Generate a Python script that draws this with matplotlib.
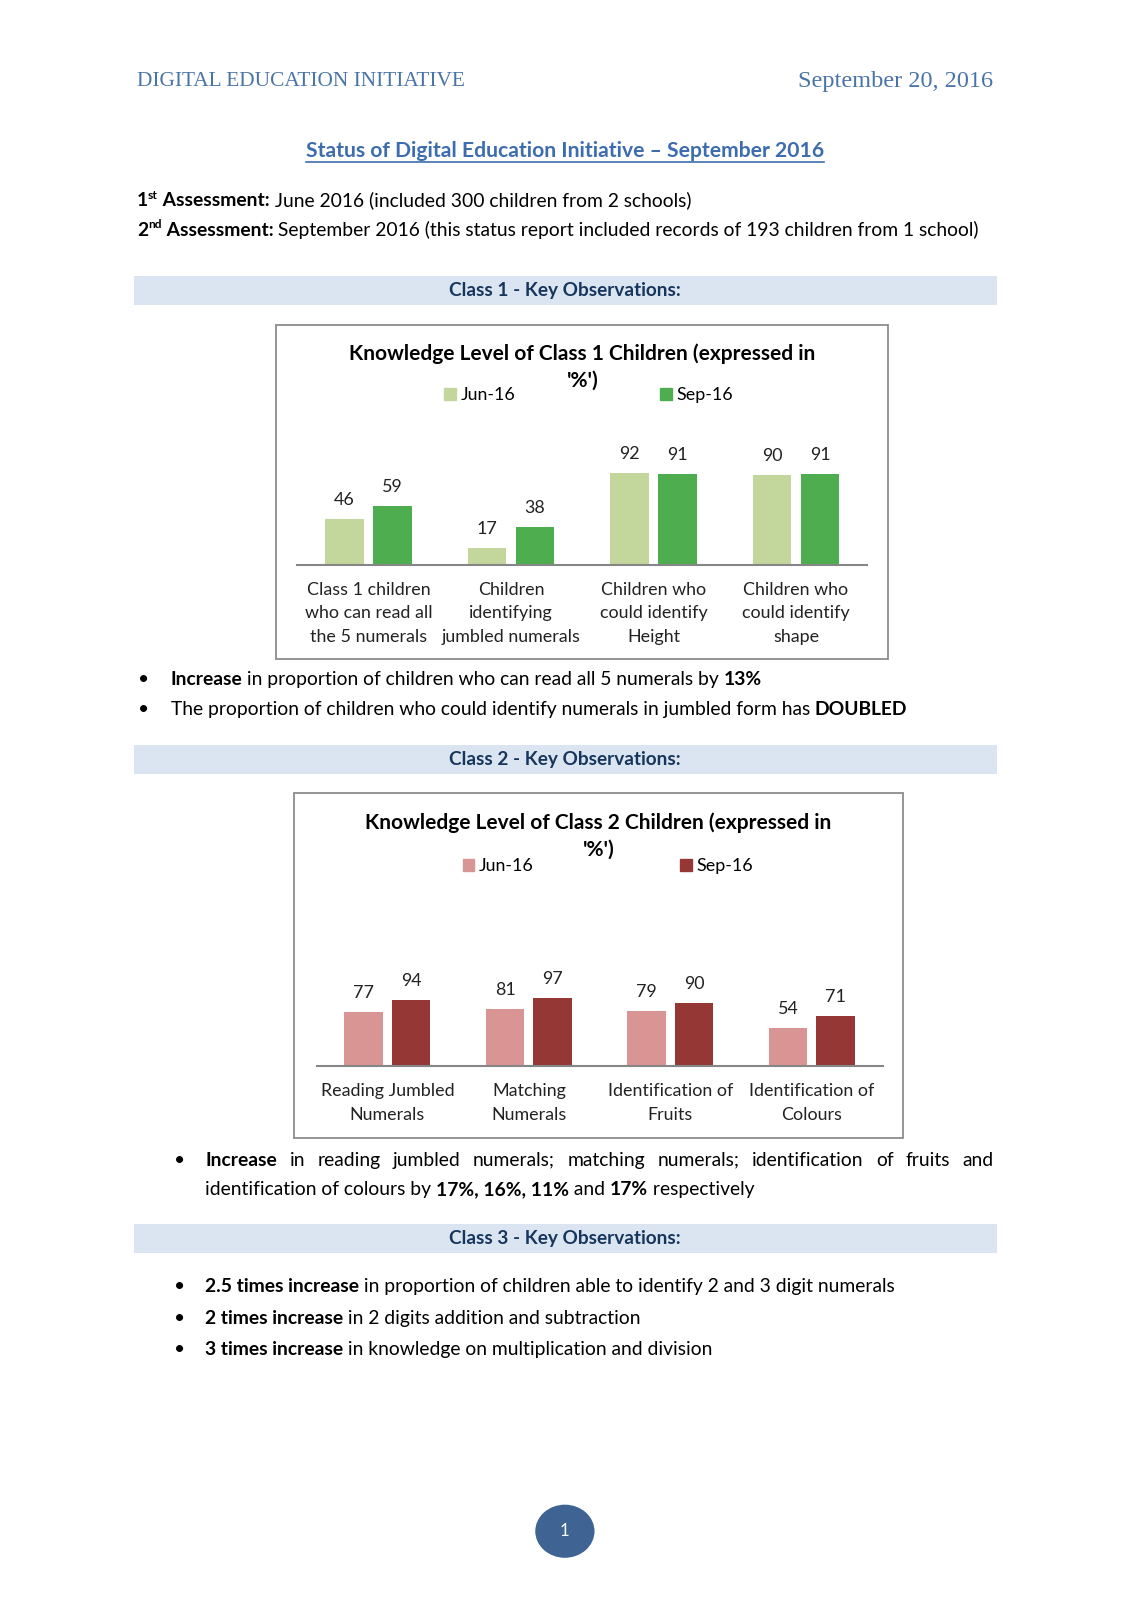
import matplotlib
matplotlib.use('Agg')
import numpy as np
import matplotlib.pyplot as plt
from matplotlib.patches import Rectangle, Ellipse, Patch

W, H = 1131, 1600
S = 1.0215  # layout below is measured on a slightly reduced view of the page
plt.rcParams['font.family'] = ['Lato', 'DejaVu Sans']

# chart data
series = ['Jun-16', 'Sep-16']
class1_cats = ['Class 1 children\nwho can read all\nthe 5 numerals',
               'Children\nidentifying\njumbled numerals',
               'Children who\ncould identify\nHeight',
               'Children who\ncould identify\nshape']
class1_jun = [46, 17, 92, 90]
class1_sep = [59, 38, 91, 91]
class2_cats = ['Reading Jumbled\nNumerals', 'Matching\nNumerals',
               'Identification of\nFruits', 'Identification of\nColours']
class2_jun = [77, 81, 79, 54]
class2_sep = [94, 97, 90, 71]

BLUE = '#3D6DAE'
NAVY = '#17365D'
BAND = '#DBE5F1'

fig = plt.figure(figsize=(W / 100, H / 100), dpi=100)
renderer = fig.canvas.get_renderer()


def fx(px):
    return px * S / W


def fy(py):
    return 1 - py * S / H


def fw(px):
    return px * S / W


def fh(py):
    return py * S / H


def adv(s, size, weight='normal', family=None):
    # advance width in reference px, trailing spaces included
    kw = dict(fontsize=size, fontweight=weight)
    if family:
        kw['family'] = family
    t1 = fig.text(0, 0, s + '|', **kw)
    t2 = fig.text(0, 0, '|', **kw)
    w = t1.get_window_extent(renderer).width - t2.get_window_extent(renderer).width
    t1.remove()
    t2.remove()
    return w / S


def fit(s, width, weight='normal', family=None):
    return 10 * width / adv(s, 10, weight, family)


def runs_width(parts, size):
    tot = 0
    for s, b, sup in parts:
        tot += adv(s, size * 0.62 if sup else size, 'bold' if b else 'normal')
    return tot


def draw_runs(x, y, parts, size, color='black'):
    for s, b, sup in parts:
        sz = size * 0.62 if sup else size
        yy = y - size * 0.55 if sup else y
        fig.text(fx(x), fy(yy), s, fontsize=sz, fontweight='bold' if b else 'normal',
                 color=color, va='baseline', ha='left')
        x += adv(s, sz, 'bold' if b else 'normal')


def draw_justified(x, x2, y, words, size):
    total = sum(adv(w, size, 'bold' if b else 'normal') for w, b in words)
    gap = (x2 - x - total) / (len(words) - 1)
    for w, b in words:
        wt = 'bold' if b else 'normal'
        fig.text(fx(x), fy(y), w, fontsize=size, fontweight=wt, va='baseline')
        x += adv(w, size, wt) + gap


# header
serif = 'Liberation Serif'
hs = fit('DIGITAL EDUCATION INITIATIVE', 321, family=serif)
ds = fit('September 20, 2016', 190, family=serif)
fig.text(fx(134), fy(80), 'DIGITAL EDUCATION INITIATIVE', fontsize=hs, family=serif,
         color='#4A74A8', va='center', ha='left')
fig.text(fx(972), fy(80), 'September 20, 2016', fontsize=ds, family=serif,
         color='#4A74A8', va='center', ha='right')

# title
title = 'Status of Digital Education Initiative \u2013 September 2016'
ts = fit(title, 507, 'bold')
fig.text(fx(553), fy(148), title, fontsize=ts, fontweight='bold', color=BLUE,
         va='center', ha='center')
fig.add_artist(plt.Line2D([fx(300), fx(807)], [fy(159), fy(159)], color=BLUE, lw=1.2))

# assessment lines
line2 = [('2', True, False), ('nd', True, True), (' Assessment:', True, False),
         (' September 2016 (this status report included records of 193 children from 1 school)', False, False)]
bs = 10 * 829 / runs_width(line2, 10)
line1 = [('1', True, False), ('st', True, True), (' Assessment:', True, False),
         (' June 2016 (included 300 children from 2 schools)', False, False)]
draw_runs(134, 202, line1, bs)
draw_runs(134, 231, line2, bs)

# bands
band_size = fit('Class 1 - Key Observations:', 227, 'bold')
for top, label in [(270, 'Class 1 - Key Observations:'), (729, 'Class 2 - Key Observations:'),
                   (1198, 'Class 3 - Key Observations:')]:
    fig.add_artist(Rectangle((fx(131), fy(top + 29)), fw(976 - 131), fh(29),
                             transform=fig.transFigure, facecolor=BAND, edgecolor='none', zorder=0))
    fig.text(fx(553), fy(top + 14.5), label, fontsize=band_size, fontweight='bold',
             color=NAVY, va='center', ha='center')

# charts
cs = fit('jumbled numerals', 136)
chart_title_size = fit('Knowledge Level of Class 1 Children (expressed in', 458, 'bold')


def chart(box, axpx, scale, cats, jun, sep, colors, name, title_x, title_y, leg):
    x0, y0, x1, y1 = box
    fig.add_artist(Rectangle((fx(x0), fy(y1)), fw(x1 - x0), fh(y1 - y0),
                             transform=fig.transFigure, fill=False, edgecolor='#8C8C8C', lw=1.3))
    left, right, base = axpx
    ax = fig.add_axes([fx(left), fy(base), fw(right - left), fh(scale * 100)])
    ax.set_facecolor('none')
    x = np.arange(len(cats))
    bw, off = 0.272, 0.168
    b1 = ax.bar(x - off, jun, bw, color=colors[0])
    b2 = ax.bar(x + off, sep, bw, color=colors[1])
    for b in (b1, b2):
        ax.bar_label(b, padding=8, fontsize=cs, color='#222222')
    ax.set_xlim(-0.5, 3.5)
    ax.set_ylim(0, 100)
    for k in ['top', 'left', 'right']:
        ax.spines[k].set_visible(False)
    ax.spines['bottom'].set_color('#868686')
    ax.spines['bottom'].set_linewidth(1.5)
    ax.set_yticks([])
    ax.set_xticks(x)
    ax.set_xticklabels(cats, fontsize=cs, color='#222222', linespacing=1.6)
    ax.tick_params(axis='x', length=0, pad=12)
    fig.text(fx(title_x), fy(title_y), 'Knowledge Level of ' + name + ' Children (expressed in',
             fontsize=chart_title_size, fontweight='bold', va='center', ha='center')
    fig.text(fx(title_x), fy(title_y + 27), "'%')", fontsize=chart_title_size, fontweight='bold',
             va='center', ha='center')
    for (lx, ly), lab, c in zip(leg, series, colors):
        fig.legend(handles=[Patch(color=c)], labels=[lab], loc='center left',
                   bbox_to_anchor=(fx(lx), fy(ly)), frameon=False, handlelength=0.65,
                   handleheight=0.65, handletextpad=0.25, borderpad=0, borderaxespad=0,
                   fontsize=cs)


chart((270, 318, 869, 645), (291, 849, 553), 0.978, class1_cats, class1_jun, class1_sep,
      ['#C3D69B', '#4EAD4F'], 'Class 1', 570, 346, [(435, 387), (646, 387)])
chart((288, 776, 884, 1114), (310, 864, 1044), 0.69, class2_cats, class2_jun, class2_sep,
      ['#D99594', '#953735'], 'Class 2', 586, 805, [(453, 848), (666, 848)])


# bullets
def bullet(bx, y):
    fig.text(fx(bx), fy(y), '\u2022', fontsize=bs, va='baseline', ha='left')


bullet(135, 671)
draw_runs(167, 671, [('Increase', True, False),
                     (' in proportion of children who can read all 5 numerals by ', False, False),
                     ('13%', True, False)], bs)
bullet(135, 700)
draw_runs(167, 700, [('The proportion of children who could identify numerals in jumbled form has ', False, False),
                     ('DOUBLED', True, False)], bs)

bullet(170, 1141)
words = [('Increase', True)] + [(w, False) for w in
                                'in reading jumbled numerals; matching numerals; identification of fruits and'.split()]
draw_justified(201, 973, 1141, words, bs)
draw_runs(201, 1170, [('identification of colours by ', False, False), ('17%, 16%, 11%', True, False),
                      (' and ', False, False), ('17%', True, False), (' respectively', False, False)], bs)

bullet(170, 1265)
draw_runs(201, 1265, [('2.5 times increase', True, False),
                      (' in proportion of children able to identify 2 and 3 digit numerals', False, False)], bs)
bullet(170, 1296)
draw_runs(201, 1296, [('2 times increase', True, False),
                      (' in 2 digits addition and subtraction', False, False)], bs)
bullet(170, 1326)
draw_runs(201, 1326, [('3 times increase', True, False),
                      (' in knowledge on multiplication and division', False, False)], bs)

# page number
fig.add_artist(Ellipse((fx(553), fy(1499)), fw(58), fh(52), transform=fig.transFigure,
                       facecolor='#3F6494', edgecolor='none'))
fig.text(fx(553), fy(1499), '1', fontsize=12, color='white',
         va='center', ha='center')

fig.savefig('out.png', dpi=100, facecolor='white')
